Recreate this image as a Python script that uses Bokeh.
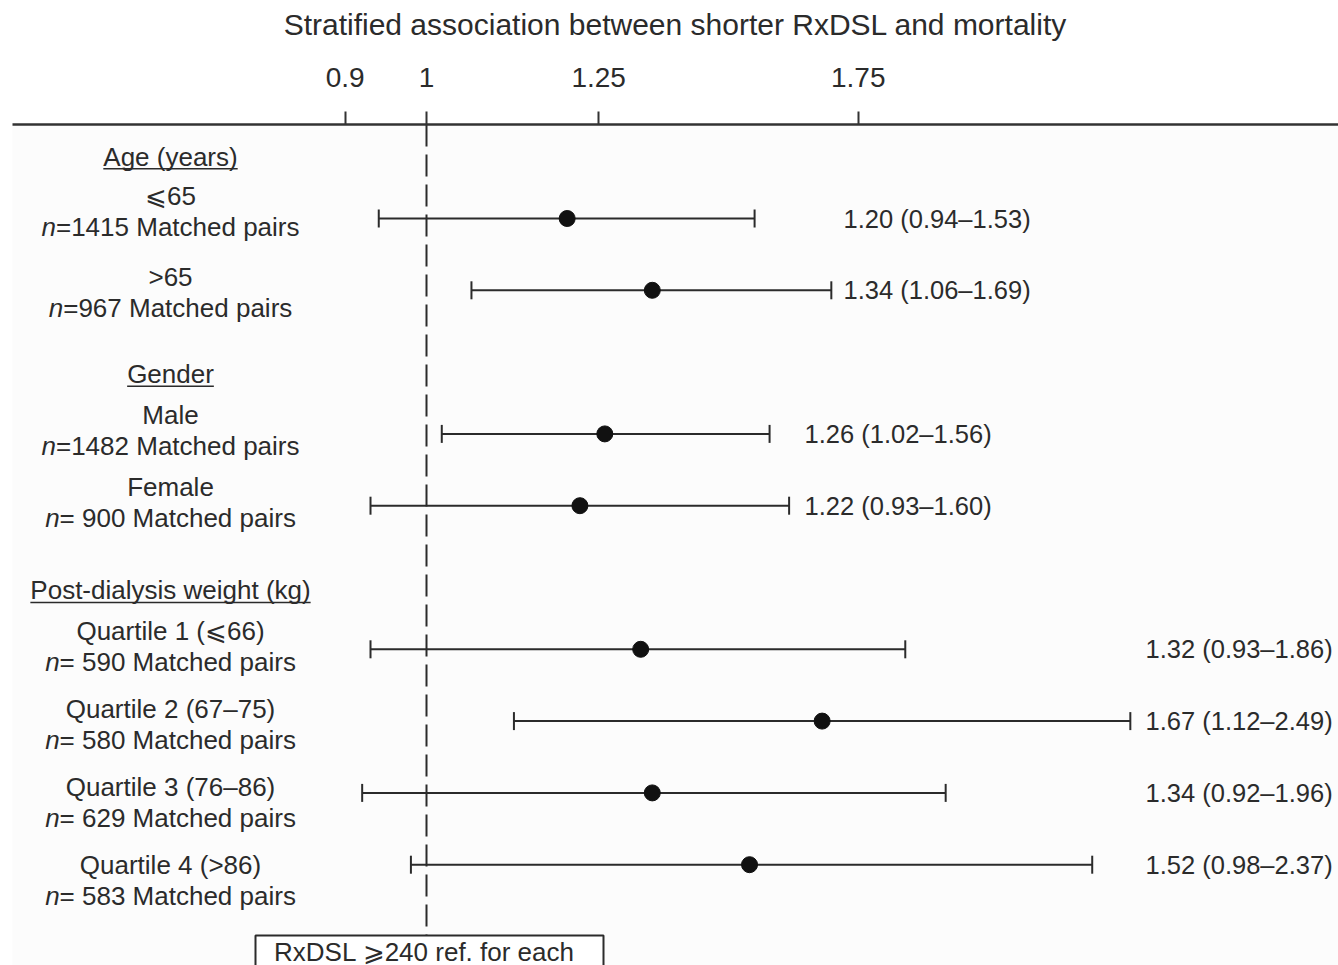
import math

from bokeh.core.properties import value
from bokeh.embed import file_html
from bokeh.models import ColumnDataSource, FixedTicker, NumeralTickFormatter, Range1d
from bokeh.plotting import figure
from bokeh.resources import INLINE

# ---- data -------------------------------------------------------------
group_titles = ["Age (years)", "Gender", "Post-dialysis weight (kg)"]
subgroups = ["⩽65", ">65", "Male", "Female",
             "Quartile 1 (⩽66)", "Quartile 2 (67–75)",
             "Quartile 3 (76–86)", "Quartile 4 (>86)"]
matched_pairs = [1415, 967, 1482, 900, 590, 580, 629, 583]
hazard_ratio = [1.20, 1.34, 1.26, 1.22, 1.32, 1.67, 1.34, 1.52]
ci_lower = [0.94, 1.06, 1.02, 0.93, 0.93, 1.12, 0.92, 0.98]
ci_upper = [1.53, 1.69, 1.56, 1.60, 1.86, 2.49, 1.96, 2.37]
tick_values = [0.9, 1, 1.25, 1.75]
reference_note = "RxDSL ⩾240 ref. for each"
title_text = "Stratified association between shorter RxDSL and mortality"

# ---- layout -----------------------------------------------------------
W, H = 1338, 965
FRAME_LEFT, FRAME_TOP = 12, 124
REF_PX = 426            # screen x of HR = 1
PX_PER_LN = 771.5       # pixels per unit of ln(HR)
ROW0_PX, ROW_PX = 218, 71.8

row_slot = [0, 1, 3, 4, 6, 7, 8, 9]
header_slot = [-0.86, 2.17, 5.18]
label_shift_px = [-7, 2, -3, -3.5, -3, 3, 10, 16]
eq_sep = ["=", "=", "=", "= ", "= ", "= ", "= ", "= "]
value_label_px = [843, 843, 804, 804, 1145, 1145, 1145, 1145]
LABEL_CENTER_PX = 170

INK = "#2b2b2b"
FONT = "Liberation Sans"
LEFT_SIZE = 26
VALUE_SIZE = 25.5


def px_to_x(px):
    return math.exp((px - REF_PX) / PX_PER_LN)


def px_to_y(py):
    return (py - ROW0_PX) / ROW_PX


# Arial-compatible advance widths (per 1000 em) for centring mixed-style lines
ADV = {' ': 278, '=': 584, 'M': 833, 'a': 556, 't': 278, 'c': 500, 'h': 556,
       'e': 556, 'd': 556, 'p': 556, 'i': 222, 'r': 333, 's': 500, 'n': 556,
       'A': 667, 'g': 556, 'y': 500, '(': 333, ')': 333, 'G': 778, 'P': 667,
       'o': 556, '-': 333, 'l': 222, 'w': 722, 'k': 500}


def text_width(s, size):
    return sum(ADV.get(ch, 556) for ch in s) * size / 1000.0


x_range = Range1d(px_to_x(FRAME_LEFT), px_to_x(W))
y_range = Range1d(px_to_y(H), px_to_y(FRAME_TOP))   # flipped: first row on top

p = figure(width=W, height=H, x_axis_type="log", x_axis_location="above",
           y_axis_location=None, x_range=x_range, y_range=y_range,
           output_backend="svg", toolbar_location=None,
           min_border_left=FRAME_LEFT, min_border_right=0,
           min_border_top=FRAME_TOP, min_border_bottom=0)
p.background_fill_color = "#fcfcfc"
p.border_fill_color = "white"
p.outline_line_color = None
p.grid.visible = False

ax = p.xaxis[0]
ax.ticker = FixedTicker(ticks=tick_values)
ax.formatter = NumeralTickFormatter(format="0.[00]")
ax.axis_line_color = "#333333"
ax.axis_line_width = 2.5
ax.major_tick_line_color = "#333333"
ax.major_tick_line_width = 2
ax.major_tick_out = 13
ax.major_tick_in = 0
ax.minor_tick_out = 0
ax.minor_tick_in = 0
ax.major_label_standoff = 25
ax.major_label_text_font = FONT
ax.major_label_text_font_size = "28px"
ax.major_label_text_color = INK
ax.axis_label = title_text
ax.axis_label_text_font = FONT
ax.axis_label_text_font_size = "30px"
ax.axis_label_text_font_style = "normal"
ax.axis_label_text_color = INK
ax.axis_label_standoff = 24

# ---- reference line and note box ---------------------------------------
box_top = px_to_y(935)
p.segment(x0=[1], y0=[px_to_y(FRAME_TOP)], x1=[1], y1=[box_top],
          line_color=INK, line_width=2, line_dash="22 8")
p.rect(x=[px_to_x(429)], y=[px_to_y(965)], width=[348], height=[60],
       width_units="screen", height_units="screen",
       fill_color="white", line_color=INK, line_width=2)
p.text(x=[px_to_x(424)], y=[px_to_y(951)], text=[reference_note],
       text_align="center", text_baseline="middle", text_color=INK,
       text_font=value(FONT), text_font_size=value(f"{LEFT_SIZE}px"))

# ---- confidence intervals and point estimates --------------------------
est = ColumnDataSource(dict(y=row_slot, hr=hazard_ratio, lo=ci_lower, hi=ci_upper))
p.segment(x0="lo", y0="y", x1="hi", y1="y", source=est,
          line_color=INK, line_width=2)
p.scatter(x="lo", y="y", source=est, marker="dash", angle=math.pi / 2,
          size=18, line_color=INK, line_width=2)
p.scatter(x="hi", y="y", source=est, marker="dash", angle=math.pi / 2,
          size=18, line_color=INK, line_width=2)
p.scatter(x="hr", y="y", source=est, marker="circle", size=16,
          fill_color="#111111", line_color="#111111")

value_labels = [f"{h:.2f} ({l:.2f}–{u:.2f})"
                for h, l, u in zip(hazard_ratio, ci_lower, ci_upper)]
p.text(x=[px_to_x(v) for v in value_label_px], y=row_slot, text=value_labels,
       text_align="left", text_baseline="middle", text_color=INK,
       text_font=value(FONT), text_font_size=value(f"{VALUE_SIZE}px"))

# ---- left-hand labels ---------------------------------------------------
cx = px_to_x(LABEL_CENTER_PX)

# group headings, underlined
p.text(x=[cx] * len(group_titles), y=header_slot, text=group_titles,
       text_align="center", text_baseline="middle", text_color=INK,
       text_font=value(FONT), text_font_size=value(f"{LEFT_SIZE}px"))
hw = [text_width(t, LEFT_SIZE) / 2 for t in group_titles]
p.segment(x0=[px_to_x(LABEL_CENTER_PX - w) for w in hw],
          x1=[px_to_x(LABEL_CENTER_PX + w) for w in hw],
          y0=[s + 12 / ROW_PX for s in header_slot],
          y1=[s + 12 / ROW_PX for s in header_slot],
          line_color=INK, line_width=1.5)

# subgroup names
p.text(x=[cx] * len(subgroups), y=row_slot, text=subgroups,
       y_offset=[s - 15.5 for s in label_shift_px],
       text_align="center", text_baseline="middle", text_color=INK,
       text_font=value(FONT), text_font_size=value(f"{LEFT_SIZE}px"))

# "n = ... Matched pairs" with italic n
rest = [f"{sep}{n} Matched pairs" for sep, n in zip(eq_sep, matched_pairs)]
n_w = text_width("n", LEFT_SIZE)
starts = [-(n_w + text_width(r, LEFT_SIZE)) / 2 for r in rest]
line2_off = [s + 15.5 for s in label_shift_px]
p.text(x=[cx] * len(rest), y=row_slot, text=["n"] * len(rest),
       x_offset=starts, y_offset=line2_off,
       text_align="left", text_baseline="middle", text_color=INK,
       text_font=value(FONT), text_font_style="italic",
       text_font_size=value(f"{LEFT_SIZE}px"))
p.text(x=[cx] * len(rest), y=row_slot, text=rest,
       x_offset=[s + n_w for s in starts], y_offset=line2_off,
       text_align="left", text_baseline="middle", text_color=INK,
       text_font=value(FONT), text_font_size=value(f"{LEFT_SIZE}px"))

with open("out.html", "w") as f:
    f.write(file_html(p, INLINE))
